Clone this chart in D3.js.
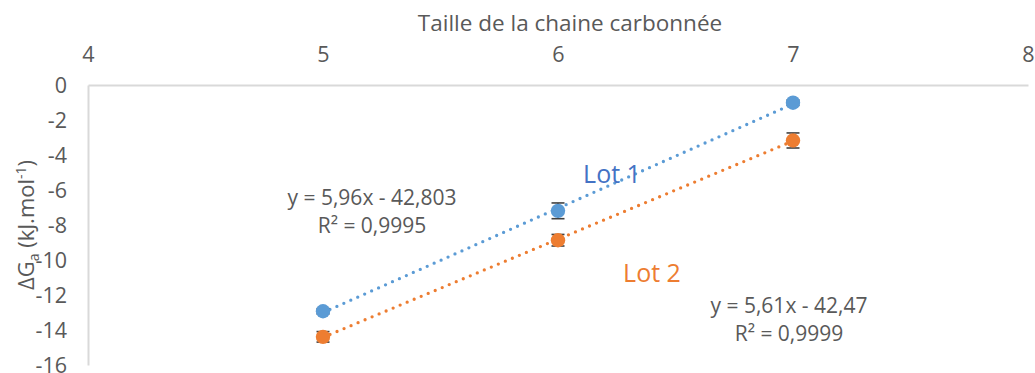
<!DOCTYPE html>
<html>
<head>
<meta charset="utf-8">
<script src="https://cdn.jsdelivr.net/npm/d3@7"></script>
<style>
  html, body { margin: 0; padding: 0; background: #fff; }
  svg { display: block; font-family: "Open Sans", Lato, sans-serif; }
</style>
</head>
<body>
<svg id="chart" width="1035" height="373"></svg>
<script>
// Chain length (x) and adsorption free energy ΔGa (kJ/mol) for two lots
const chainLengths = [5, 6, 7];
const lot1Values = [-12.93, -7.19, -1.01];
const lot2Values = [-14.39, -8.87, -3.17];
const lot1Errors = [0.15, 0.45, 0.15];
const lot2Errors = [0.30, 0.33, 0.43];

// Linear fits shown on the chart
const fitSlopes = [5.96, 5.61];
const fitIntercepts = [-42.803, -42.47];
const fitR2 = [0.9995, 0.9999];

const seriesNames = ["Lot 1", "Lot 2"];
const xTicks = [4, 5, 6, 7, 8];
const yTicks = [0, -2, -4, -6, -8, -10, -12, -14, -16];

const W = 1035, H = 373;
const margin = { top: 85, right: 7, bottom: 8, left: 88 };

const svg = d3.select("#chart");

const x = d3.scaleLinear().domain([4, 8]).range([margin.left, W - margin.right]);
const y = d3.scaleLinear().domain([0, -16]).range([margin.top, H - margin.bottom]);

const textGrey = "#595959";
const axisGrey = "#d9d9d9";
const colors = ["#5b9bd5", "#ed7d31"];
const labelColors = ["#4472c4", "#ed7d31"];

// Axes: x along the top, y down the left, no tick marks
const xAxis = svg.append("g")
  .attr("transform", `translate(0,${margin.top})`)
  .call(d3.axisTop(x).tickValues(xTicks).tickSize(0).tickPadding(23).tickFormat(d => String(d)));
const yAxis = svg.append("g")
  .attr("transform", `translate(${margin.left},0)`)
  .call(d3.axisLeft(y).tickValues(yTicks).tickSize(0).tickPadding(21).tickFormat(d => String(d)));

[xAxis, yAxis].forEach(g => {
  g.select(".domain").attr("stroke", axisGrey).attr("stroke-width", 2);
  g.selectAll("text")
    .attr("fill", textGrey)
    .style("font-size", "21.5px")
    .style("font-family", "'Open Sans', Lato, sans-serif");
});
yAxis.selectAll("text").attr("dy", "0.36em");

// Axis titles
svg.append("text")
  .attr("x", 570).attr("y", 31)
  .attr("text-anchor", "middle")
  .attr("fill", textGrey)
  .style("font-size", "22.5px")
  .text("Taille de la chaine carbonnée");

const yTitle = svg.append("text")
  .attr("transform", "translate(34,225) rotate(-90)")
  .attr("text-anchor", "middle")
  .attr("fill", textGrey)
  .style("font-size", "22px");
yTitle.append("tspan").text("ΔG");
yTitle.append("tspan").attr("dy", 5).style("font-size", "14px").text("a");
yTitle.append("tspan").attr("dy", -5).text(" (kJ.mol");
yTitle.append("tspan").attr("dy", -8).style("font-size", "14px").text("-1");
yTitle.append("tspan").attr("dy", 8).text(")");

const series = [
  { values: lot1Values, errors: lot1Errors },
  { values: lot2Values, errors: lot2Errors }
];

// Dotted trend lines over the data range
series.forEach((s, i) => {
  const x0 = d3.min(chainLengths), x1 = d3.max(chainLengths);
  const fit = v => fitSlopes[i] * v + fitIntercepts[i];
  svg.append("line")
    .attr("x1", x(x0)).attr("y1", y(fit(x0)))
    .attr("x2", x(x1)).attr("y2", y(fit(x1)))
    .attr("stroke", colors[i])
    .attr("stroke-width", 3.3)
    .attr("stroke-linecap", "round")
    .attr("stroke-dasharray", "0 7.6");
});

// Error bars (behind the markers)
series.forEach((s, i) => {
  const g = svg.append("g").attr("stroke", "#404040").attr("stroke-width", 1.6);
  chainLengths.forEach((c, j) => {
    const v = s.values[j], e = s.errors[j];
    const cx = x(c), yTop = y(v + e), yBot = y(v - e);
    g.append("line").attr("x1", cx).attr("x2", cx).attr("y1", yTop).attr("y2", yBot);
    g.append("line").attr("x1", cx - 6.5).attr("x2", cx + 6.5).attr("y1", yTop).attr("y2", yTop);
    g.append("line").attr("x1", cx - 6.5).attr("x2", cx + 6.5).attr("y1", yBot).attr("y2", yBot);
  });
});

// Markers
series.forEach((s, i) => {
  svg.append("g").selectAll("circle")
    .data(chainLengths.map((c, j) => [c, s.values[j]]))
    .join("circle")
    .attr("cx", d => x(d[0]))
    .attr("cy", d => y(d[1]))
    .attr("r", 7.2)
    .attr("fill", colors[i]);
});

// Series labels
const seriesLabelPos = [[612, 183], [652, 282]];
seriesNames.forEach((name, i) => {
  svg.append("text")
    .attr("x", seriesLabelPos[i][0]).attr("y", seriesLabelPos[i][1])
    .attr("text-anchor", "middle")
    .attr("fill", labelColors[i])
    .style("font-size", "25px")
    .text(name);
});

// Fit equations
const fmt = v => String(v).replace(".", ",");
const eqPos = [[372, 205], [789, 313]];
fitSlopes.forEach((m, i) => {
  const b = fitIntercepts[i];
  const t = svg.append("text")
    .attr("text-anchor", "middle")
    .attr("fill", textGrey)
    .style("font-size", "21px");
  t.append("tspan").attr("x", eqPos[i][0]).attr("y", eqPos[i][1])
    .text(`y = ${fmt(m)}x ${b < 0 ? "-" : "+"} ${fmt(Math.abs(b))}`);
  t.append("tspan").attr("x", eqPos[i][0]).attr("y", eqPos[i][1] + 28)
    .text(`R² = ${fmt(fitR2[i])}`);
});
</script>
</body>
</html>
